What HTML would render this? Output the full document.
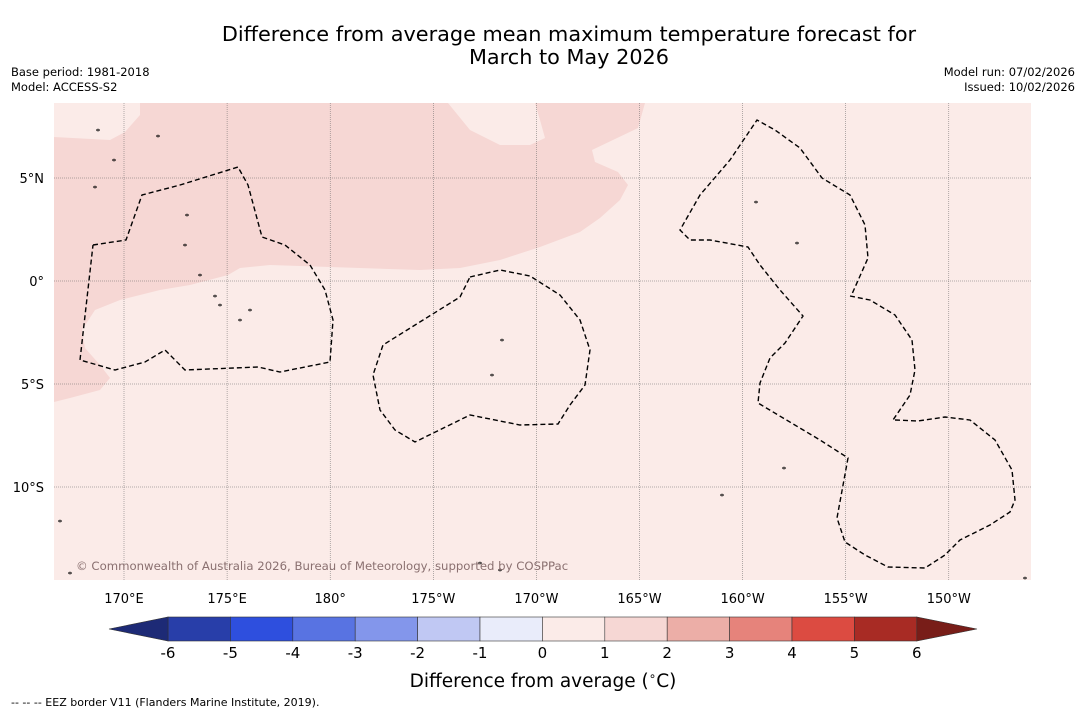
<!DOCTYPE html>
<html><head><meta charset="utf-8"><style>
body{margin:0;background:#fff;width:1085px;height:713px;overflow:hidden;font-family:"DejaVu Sans","Liberation Sans",sans-serif}
</style></head><body>
<svg width="1085" height="713" xmlns="http://www.w3.org/2000/svg">
<text x="569" y="41" font-size="20.8" text-anchor="middle">Difference from average mean maximum temperature forecast for</text>
<text x="569" y="64" font-size="20.8" text-anchor="middle">March to May 2026</text>
<text x="11" y="76" font-size="11.5">Base period: 1981-2018</text>
<text x="11" y="91" font-size="11.5">Model: ACCESS-S2</text>
<text x="1075" y="76" font-size="11.5" text-anchor="end">Model run: 07/02/2026</text>
<text x="1075" y="91" font-size="11.5" text-anchor="end">Issued: 10/02/2026</text>
<g id="map"></g>
<g id="cbar"></g>
<text x="543" y="687" font-size="18.5" text-anchor="middle">Difference from average (<tspan font-size="12" dy="-7">∘</tspan><tspan dy="7">C)</tspan></text>
<text x="11" y="706" font-size="11">--  --  -- EEZ border V11 (Flanders Marine Institute, 2019).</text>
</svg>
<script>
const NS="http://www.w3.org/2000/svg";
const lonTicks=[170,175,180,185,190,195,200,205,210];
const lonLabels=["170°E","175°E","180°","175°W","170°W","165°W","160°W","155°W","150°W"];
const latTicks=[5,0,-5,-10];
const latLabels=["5°N","0°","5°S","10°S"];
const levels=[-6,-5,-4,-3,-2,-1,0,1,2,3,4,5,6];
const colors=["#283ea9","#2e4fde","#5873e2","#8396eb","#c0c8f3","#e9ecfa","#fbebe8","#f6d7d4","#ecaea7","#e6837b","#dc4b41","#a82b24"];
const lowColor="#1d2a76", highColor="#781d18";
const X0=54,X1=1031,Y0=103,Y1=580;
const xS=lon=>124+(lon-170)*20.62;
const yS=lat=>281-lat*20.6;
function el(t,a,p){const e=document.createElementNS(NS,t);for(const k in a)e.setAttribute(k,a[k]);p.appendChild(e);return e;}
const map=document.getElementById('map');
const bg=el('rect',{x:X0,y:Y0,width:X1-X0,height:Y1-Y0,fill:"#fbebe8"},map);


const dark=[[140,103],[448,103],[470,130],[500,145],[530,145],[545,138],[540,120],[535,103],[645,103],[638,128],[592,150],[595,162],[618,172],[628,185],[620,200],[600,218],[580,232],[540,247],[500,260],[460,268],[420,270],[330,267],[270,265],[240,268],[228,275],[190,285],[160,290],[120,300],[95,310],[82,330],[85,348],[100,365],[110,378],[100,390],[70,398],[54,402],[54,137],[110,140],[125,132],[140,115]];
const dp=el('polygon',{points:dark.map(p=>p.join(',')).join(' '),fill:"#f6d7d4"},map);


lonTicks.forEach((l,i)=>{const x=xS(l);
const g=el('line',{x1:x,x2:x,y1:Y0,y2:Y1,stroke:"#666","stroke-width":0.5,"stroke-dasharray":"1,1"},map);


const t=el('text',{x:x,y:603,"font-size":13,"text-anchor":"middle"},map);t.textContent=lonLabels[i];

});
latTicks.forEach((l,i)=>{const y=yS(l);
const g=el('line',{x1:X0,x2:X1,y1:y,y2:y,stroke:"#666","stroke-width":0.5,"stroke-dasharray":"1,1"},map);


const t=el('text',{x:44,y:y+5,"font-size":13,"text-anchor":"end"},map);t.textContent=latLabels[i];

});
const eez=[
[[93,245],[126,240],[142,195],[180,185],[238,167],[248,185],[262,237],[285,245],[310,265],[325,290],[333,320],[330,362],[280,372],[258,367],[185,370],[165,350],[145,362],[115,370],[80,360],[93,245]],
[[470,277],[500,270],[530,276],[560,295],[580,320],[590,350],[585,385],[570,405],[558,424],[520,425],[470,415],[415,442],[395,430],[380,410],[373,375],[383,345],[460,297],[470,277]],
[[850,296],[870,300],[895,315],[912,340],[915,370],[910,395],[893,420]],
[[895,420],[918,421],[945,417],[970,420],[995,440],[1012,470],[1015,500],[1010,512],[990,525],[960,540],[945,555],[925,568],[888,567],[865,555],[845,542],[837,518],[848,458],[820,440],[758,403],[760,383],[770,358],[785,343],[803,316],[780,290],[760,265],[748,247],[710,240],[690,240],[680,230],[700,195],[730,160],[757,120],[775,130],[800,148],[822,178],[850,195],[865,225],[868,258],[852,294]]];
eez.forEach(pts=>{const p=el('polyline',{points:pts.map(q=>q.join(',')).join(' '),fill:"none",stroke:"#000","stroke-width":1.4,"stroke-dasharray":"5,3"},map);

});
const isl=[[158,136],[185,245],[200,275],[220,305],[250,310],[502,340],[492,375],[756,202],[797,243],[784,468],[722,495],[1025,578],[480,563],[500,570],[60,521],[95,187],[70,573],[187,215],[215,296],[240,320],[98,130],[114,160]];
isl.forEach(q=>{const c=el('ellipse',{cx:q[0],cy:q[1],rx:1.3,ry:0.9,fill:"none",stroke:"#000","stroke-width":0.8},map);

});
const cp=el('text',{x:76,y:570,"font-size":11.7,fill:"#8a7070"},map);cp.textContent="© Commonwealth of Australia 2026, Bureau of Meteorology, supported by COSPPac";


const cb=document.getElementById('cbar');
const cx=v=>168+(v+6)*62.4;
const CY0=617,CY1=641;
colors.forEach((c,i)=>{const r=el('rect',{x:cx(levels[i]),y:CY0,width:cx(levels[i+1])-cx(levels[i]),height:CY1-CY0,fill:c,stroke:"#333","stroke-width":0.6},cb);

});
const lt=el('polygon',{points:`${cx(-6)},${CY0} ${cx(-6)},${CY1} 109,629`,fill:lowColor,stroke:"#333","stroke-width":0.6},cb);


const ht=el('polygon',{points:`${cx(6)},${CY0} ${cx(6)},${CY1} 977,629`,fill:highColor,stroke:"#333","stroke-width":0.6},cb);


levels.forEach(v=>{const t=el('text',{x:cx(v),y:658,"font-size":15,"text-anchor":"middle"},cb);t.textContent=v;

});
</script>
</body></html>
